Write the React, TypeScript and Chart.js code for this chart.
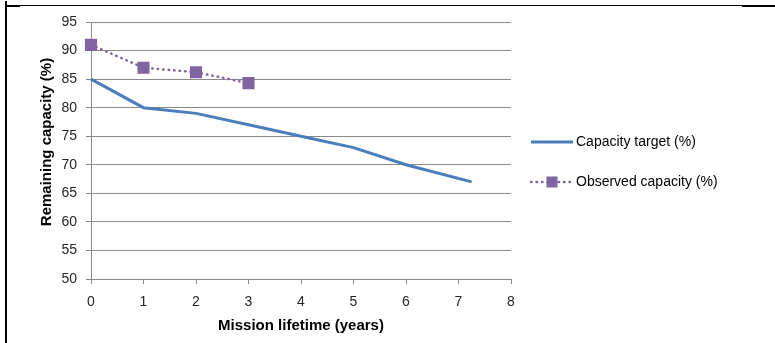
import React, { useEffect, useRef } from "react";
import { Chart, registerables } from "chart.js";

Chart.register(...registerables);

// Capacity target over the mission lifetime
const targetYears = [0, 1, 2, 3, 4, 5, 6, 7.25];
const targetCapacity = [85, 80, 79, 77, 75, 73, 70, 67];

// Observed capacity measurements
const observedYears = [0, 1, 2, 3];
const observedCapacity = [91, 87, 86.2, 84.3];

const seriesLabels = ["Capacity target (%)", "Observed capacity (%)"];
const xTitle = "Mission lifetime (years)";
const yTitle = "Remaining capacity (%)";

const BLUE = "#4a7ebb";
const PURPLE = "#8064a2";
const GRID = "#8a8a8a";
const TEXT = "#262626";
const FONT = "'Liberation Sans', Arial, sans-serif";

const decorPlugin = {
  id: "decor",
  afterDraw(chart: Chart) {
    const ctx = chart.ctx;
    const area = chart.chartArea;
    ctx.save();

    // page frame lines
    ctx.fillStyle = "#000";
    ctx.fillRect(5, 1, 2, 342);
    ctx.fillRect(7, 5, 735, 1);
    ctx.fillRect(7, 5, 13, 2);
    ctx.fillRect(742, 5, 33, 2);

    // vertical axis title
    ctx.font = `bold 15px ${FONT}`;
    ctx.fillStyle = "#000";
    ctx.textAlign = "center";
    ctx.textBaseline = "middle";
    ctx.translate(47, 142);
    ctx.rotate(-Math.PI / 2);
    ctx.fillText(yTitle, 0, 0);
    ctx.setTransform(1, 0, 0, 1, 0, 0);

    // legend
    const lx0 = area.right + 20;
    const lx1 = lx0 + 42;
    const tx = lx1 + 3;
    const rows = [142, 182];

    ctx.strokeStyle = BLUE;
    ctx.lineWidth = 3;
    ctx.beginPath();
    ctx.moveTo(lx0, rows[0]);
    ctx.lineTo(lx1, rows[0]);
    ctx.stroke();

    ctx.strokeStyle = PURPLE;
    ctx.lineWidth = 2.5;
    ctx.lineCap = "round";
    ctx.setLineDash([0.5, 5]);
    ctx.beginPath();
    ctx.moveTo(lx0, rows[1]);
    ctx.lineTo(lx1, rows[1]);
    ctx.stroke();
    ctx.setLineDash([]);
    ctx.fillStyle = PURPLE;
    const mx = (lx0 + lx1) / 2;
    ctx.fillRect(mx - 5.5, rows[1] - 5.5, 11, 11);

    ctx.font = `14px ${FONT}`;
    ctx.fillStyle = "#000";
    ctx.textAlign = "left";
    ctx.textBaseline = "middle";
    ctx.fillText(seriesLabels[0], tx, rows[0]);
    ctx.fillText(seriesLabels[1], tx, rows[1]);

    ctx.restore();
  },
};

export default function App() {
  const canvasRef = useRef<HTMLCanvasElement | null>(null);

  useEffect(() => {
    document.body.style.margin = "0";
    const canvas = canvasRef.current;
    if (!canvas) return;

    const chart = new Chart(canvas, {
      type: "line",
      data: {
        datasets: [
          {
            label: seriesLabels[0],
            data: targetYears.map((x, i) => ({ x, y: targetCapacity[i] })),
            borderColor: BLUE,
            backgroundColor: BLUE,
            borderWidth: 3,
            pointRadius: 0,
            tension: 0,
            clip: false,
          },
          {
            label: seriesLabels[1],
            data: observedYears.map((x, i) => ({ x, y: observedCapacity[i] })),
            borderColor: PURPLE,
            backgroundColor: PURPLE,
            borderWidth: 2.5,
            borderDash: [0.5, 5],
            borderCapStyle: "round",
            pointStyle: "rect",
            pointRadius: 7.5,
            pointBorderWidth: 1.5,
            pointBackgroundColor: PURPLE,
            pointBorderColor: PURPLE,
            tension: 0,
            clip: false,
          },
        ],
      },
      options: {
        animation: false,
        responsive: false,
        devicePixelRatio: 1,
        layout: { padding: { left: 0, right: 264, top: 22, bottom: 0 } },
        plugins: {
          legend: { display: false },
          tooltip: { enabled: false },
        },
        scales: {
          x: {
            type: "linear",
            min: 0,
            max: 8,
            afterFit(scale: any) {
              scale.height = 64;
            },
            ticks: {
              stepSize: 1,
              color: TEXT,
              padding: 10,
              font: { family: FONT, size: 14 },
            },
            grid: {
              drawOnChartArea: false,
              drawTicks: true,
              tickLength: 5,
              color: GRID,
            },
            border: { display: true, color: GRID, width: 1 },
            title: {
              display: true,
              text: xTitle,
              color: "#000",
              font: { family: FONT, size: 15, weight: "bold" },
              padding: { top: 0, bottom: 8 },
            },
          },
          y: {
            type: "linear",
            min: 50,
            max: 95,
            afterFit(scale: any) {
              scale.width = 91;
            },
            ticks: {
              stepSize: 5,
              color: TEXT,
              padding: 9,
              font: { family: FONT, size: 14 },
            },
            grid: {
              drawOnChartArea: true,
              drawTicks: true,
              tickLength: 5,
              color: GRID,
            },
            border: { display: true, color: GRID, width: 1 },
          },
        },
      },
      plugins: [decorPlugin],
    });

    return () => chart.destroy();
  }, []);

  return (
    <div style={{ position: "fixed", left: 0, top: 0, width: 775, height: 343, background: "#fff" }}>
      <canvas ref={canvasRef} width={775} height={343} />
    </div>
  );
}
